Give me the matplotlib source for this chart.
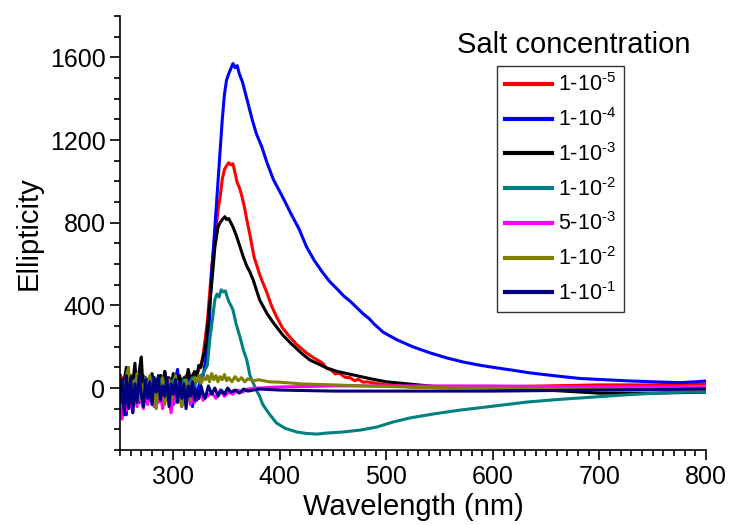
import matplotlib
matplotlib.use("Agg")
import matplotlib.pyplot as plt
from matplotlib.ticker import MultipleLocator

plt.rcParams['font.family'] = ['Liberation Sans', 'DejaVu Sans']
plt.rcParams['mathtext.fontset'] = 'custom'
plt.rcParams['mathtext.rm'] = 'Liberation Sans'
plt.rcParams['mathtext.it'] = 'Liberation Sans'

# shared noisy start of every scan
wl_noise = list(range(250, 332, 2))

red_noise = [-60, 50, -90, 30, 60, -40, 40, -20, 50, 10, -50, 60, -30, 40, 20, -40, 50, 0, 30, -20,
             40, 10, 50, -30, 30, 0, 50, 20, -10, 40, 30, 60, 20, 50, 40, 70, 60, 90, 110, 160, 240]
red_wl = [332, 334, 336, 338, 340, 342, 344, 346, 348, 350, 352, 354, 356, 358, 360, 362, 364.5, 367, 369,
          372, 374, 376, 378.6, 381, 384, 388, 392, 397, 402, 408, 416, 425, 432, 440, 444, 448, 452, 456,
          461, 466, 470, 474, 478, 482, 491, 500, 510, 522, 540, 560, 600, 650, 700, 750, 800]
red_val = [320, 450, 580, 680, 760, 860, 926, 1010, 1057, 1075, 1090, 1080, 1085, 1040, 994, 970, 926, 870,
           814, 740, 684, 630, 590, 550, 510, 460, 400, 344, 295, 255, 210, 170, 145, 121, 95, 88, 68, 72,
           52, 50, 36, 42, 28, 30, 22, 15, 10, 5, 3, 2, 5, 10, 15, 15, 20]

blue_noise = [60, -110, 20, -130, 50, -90, 40, -50, 30, -70, 60, -20, 40, -60, 20, 50, -40, 30, -10, 60,
              -30, 80, 20, -50, 30, -80, 40, 90, -20, 30, 10, -40, 40, 20, -90, 20, -60, 10, 40, 60, 120]
blue_wl = [332, 334, 336, 338, 340, 342, 344, 346, 348, 350, 352, 354, 356, 358, 360, 362, 365, 368, 371,
           374, 378, 383, 388, 394, 400, 405, 410, 418, 425, 432, 440, 447, 454, 460, 466, 472, 478, 484,
           488, 497, 510, 525, 541, 557, 572, 588, 604, 620, 635, 660, 682, 705, 729, 750, 776, 790, 800]
blue_val = [200, 330, 560, 700, 850, 1000, 1150, 1300, 1420, 1490, 1520, 1545, 1570, 1550, 1560, 1520, 1480,
            1420, 1360, 1300, 1230, 1168, 1090, 1008, 950, 900, 848, 770, 684, 620, 560, 514, 478, 445, 420,
            390, 360, 335, 312, 270, 233, 199, 170, 145, 126, 110, 97, 85, 73, 58, 46, 40, 34, 30, 26, 30, 34]

black_noise = [60, -80, 40, 100, -20, 60, 20, 120, -30, 80, 150, -40, 50, 30, -60, 70, 10, 40, -30, 60,
               20, 80, -10, 50, 10, 70, -20, 40, 60, 0, 50, 30, 90, 40, 60, 80, 60, 110, 100, 150, 190]
black_wl = [332, 334, 337, 339, 342, 344, 346, 348.5, 350, 352, 354, 356, 359, 362.6, 366, 369, 372, 375,
            381, 388, 394, 403, 410, 420, 428, 444, 454, 470, 485, 500, 522, 550, 600, 650, 700, 750, 800]
black_val = [280, 400, 557, 680, 780, 800, 815, 829, 815, 820, 800, 780, 740, 684, 630, 590, 560, 523, 427,
             360, 315, 255, 218, 170, 136, 97, 80, 62, 45, 30, 19, 5, 0, -10, -25, -25, -20]

teal_noise = [50, -60, 30, -40, 60, -30, 20, 40, -50, 30, 10, -40, 50, -20, 30, 0, 50, -30, 20, 40,
              -20, 30, 10, -40, 20, 40, -10, 30, 10, -30, 40, 20, 0, 30, 50, 10, 40, 30, 60, 70, 90]
teal_wl = [332, 334.5, 337, 339, 341, 343, 345, 347, 349, 350, 352, 354, 356, 359, 362.6, 366, 369, 372,
           375, 378, 381, 384, 390, 397, 405, 416, 425, 435, 444, 459, 475, 491, 506, 522, 545, 569, 600,
           632, 660, 694, 725, 757, 780, 800]
teal_val = [110, 247, 340, 427, 455, 440, 475, 465, 470, 450, 420, 400, 378, 310, 247, 180, 136, 60, 24,
            -10, -40, -80, -125, -170, -195, -213, -220, -223, -218, -213, -204, -189, -165, -145, -125,
            -107, -88, -68, -56, -44, -33, -24, -20, -19]

magenta_noise = [-80, -150, -20, -110, 20, -70, -120, -30, -90, 10, -60, -100, -20, -80, 30, -50, -90, -10,
                 -70, -30, -100, -40, 0, -60, -120, -20, -70, 10, -50, -90, -30, -60, -10, -80, -40, -70,
                 -20, -50, -10, -60, -30]
magenta_wl = [332, 336, 340, 344, 348, 352, 356, 360, 365, 370, 380, 400, 450, 500, 600, 700, 800]
magenta_val = [-40, -20, -50, -10, -40, -20, -30, -10, -20, -5, 0, 5, 10, 10, 10, 5, 5]

olive_noise = [-30, 20, -80, 60, 100, -70, 30, -40, 70, -60, 20, -90, 40, -20, 60, -50, 10, -100, 30, -30,
               50, -80, -20, 40, -60, 10, 60, -40, 20, -90, -30, 40, 0, -60, 20, 50, 30, 60, 20, 50, 40]
olive_wl = [332, 334, 336, 338, 340, 342, 344, 346, 348, 350, 352, 355, 358, 361, 364, 367, 370, 375, 380,
            390, 400, 420, 450, 480, 520, 560, 600, 700, 800]
olive_val = [60, 30, 70, 40, 60, 30, 55, 40, 65, 35, 50, 30, 55, 35, 50, 30, 45, 35, 40, 30, 28, 20, 15, 10,
             5, 0, 0, -5, -5]

navy_noise = [-60, 40, -130, 60, -100, 50, -120, 20, -70, 60, -30, -90, 40, -50, 30, -80, 50, -20, 60, -60,
              10, -40, 50, -90, 20, -30, 40, -70, 30, -50, 20, -100, 10, -40, 30, -60, -10, -50, 10, -30, -50]
navy_wl = [333, 336, 339, 342, 345, 348, 351, 354, 358, 362, 366, 370, 380, 400, 450, 500, 600, 700, 800]
navy_val = [10, -30, 0, -40, -10, -30, 0, -20, -10, -25, -5, -15, -5, -10, -15, -15, -15, -10, -5]

labels = [r'1-10$^{\text{-5}}$', r'1-10$^{\text{-4}}$', r'1-10$^{\text{-3}}$', r'1-10$^{\text{-2}}$',
          r'5-10$^{\text{-3}}$', r'1-10$^{\text{-2}}$', r'1-10$^{\text{-1}}$']
colors = ['#ff0000', '#0000ff', '#000000', '#008080', '#ff00ff', '#808000', '#000080']

series = [(red_noise, red_wl, red_val), (blue_noise, blue_wl, blue_val),
          (black_noise, black_wl, black_val), (teal_noise, teal_wl, teal_val),
          (magenta_noise, magenta_wl, magenta_val), (olive_noise, olive_wl, olive_val),
          (navy_noise, navy_wl, navy_val)]

fig = plt.figure(figsize=(7.3, 5.25), dpi=100)
ax = fig.add_axes([120 / 730, 75 / 525, 586 / 730, 434 / 525])

for (noise, wl, val), lab, col in zip(series, labels, colors):
    ax.plot(wl_noise + wl, noise + val, color=col, lw=2.2, label=lab)

ax.set_xlim(250, 800)
ax.set_ylim(-300, 1800)
ax.xaxis.set_major_locator(MultipleLocator(100))
ax.xaxis.set_minor_locator(MultipleLocator(10))
ax.yaxis.set_major_locator(MultipleLocator(400))
ax.yaxis.set_minor_locator(MultipleLocator(100))
ax.spines['top'].set_visible(False)
ax.spines['right'].set_visible(False)
ax.tick_params(which='major', direction='out', length=7, width=1.2, labelsize=18)
ax.tick_params(which='minor', direction='out', length=4, width=1.2)
for s in ['left', 'bottom']:
    ax.spines[s].set_linewidth(1.2)

ax.set_xlabel('Wavelength (nm)', fontsize=21, labelpad=3)
ax.set_ylabel('Ellipticity', fontsize=21, labelpad=5)

leg = ax.legend(loc='upper left', bbox_to_anchor=(497 / 730, 1 - 66 / 525), bbox_transform=fig.transFigure,
                borderaxespad=0, fontsize=15.5, frameon=True, fancybox=False, edgecolor='black',
                handlelength=2.2, handletextpad=0.3, labelspacing=0.55, borderpad=0.35)
leg.get_frame().set_linewidth(1.0)
for line in leg.get_lines():
    line.set_linewidth(3)

fig.text(574 / 730, 1 - 45 / 525, 'Salt concentration', ha='center', va='center', fontsize=21)

fig.savefig('out.png', dpi=100)
